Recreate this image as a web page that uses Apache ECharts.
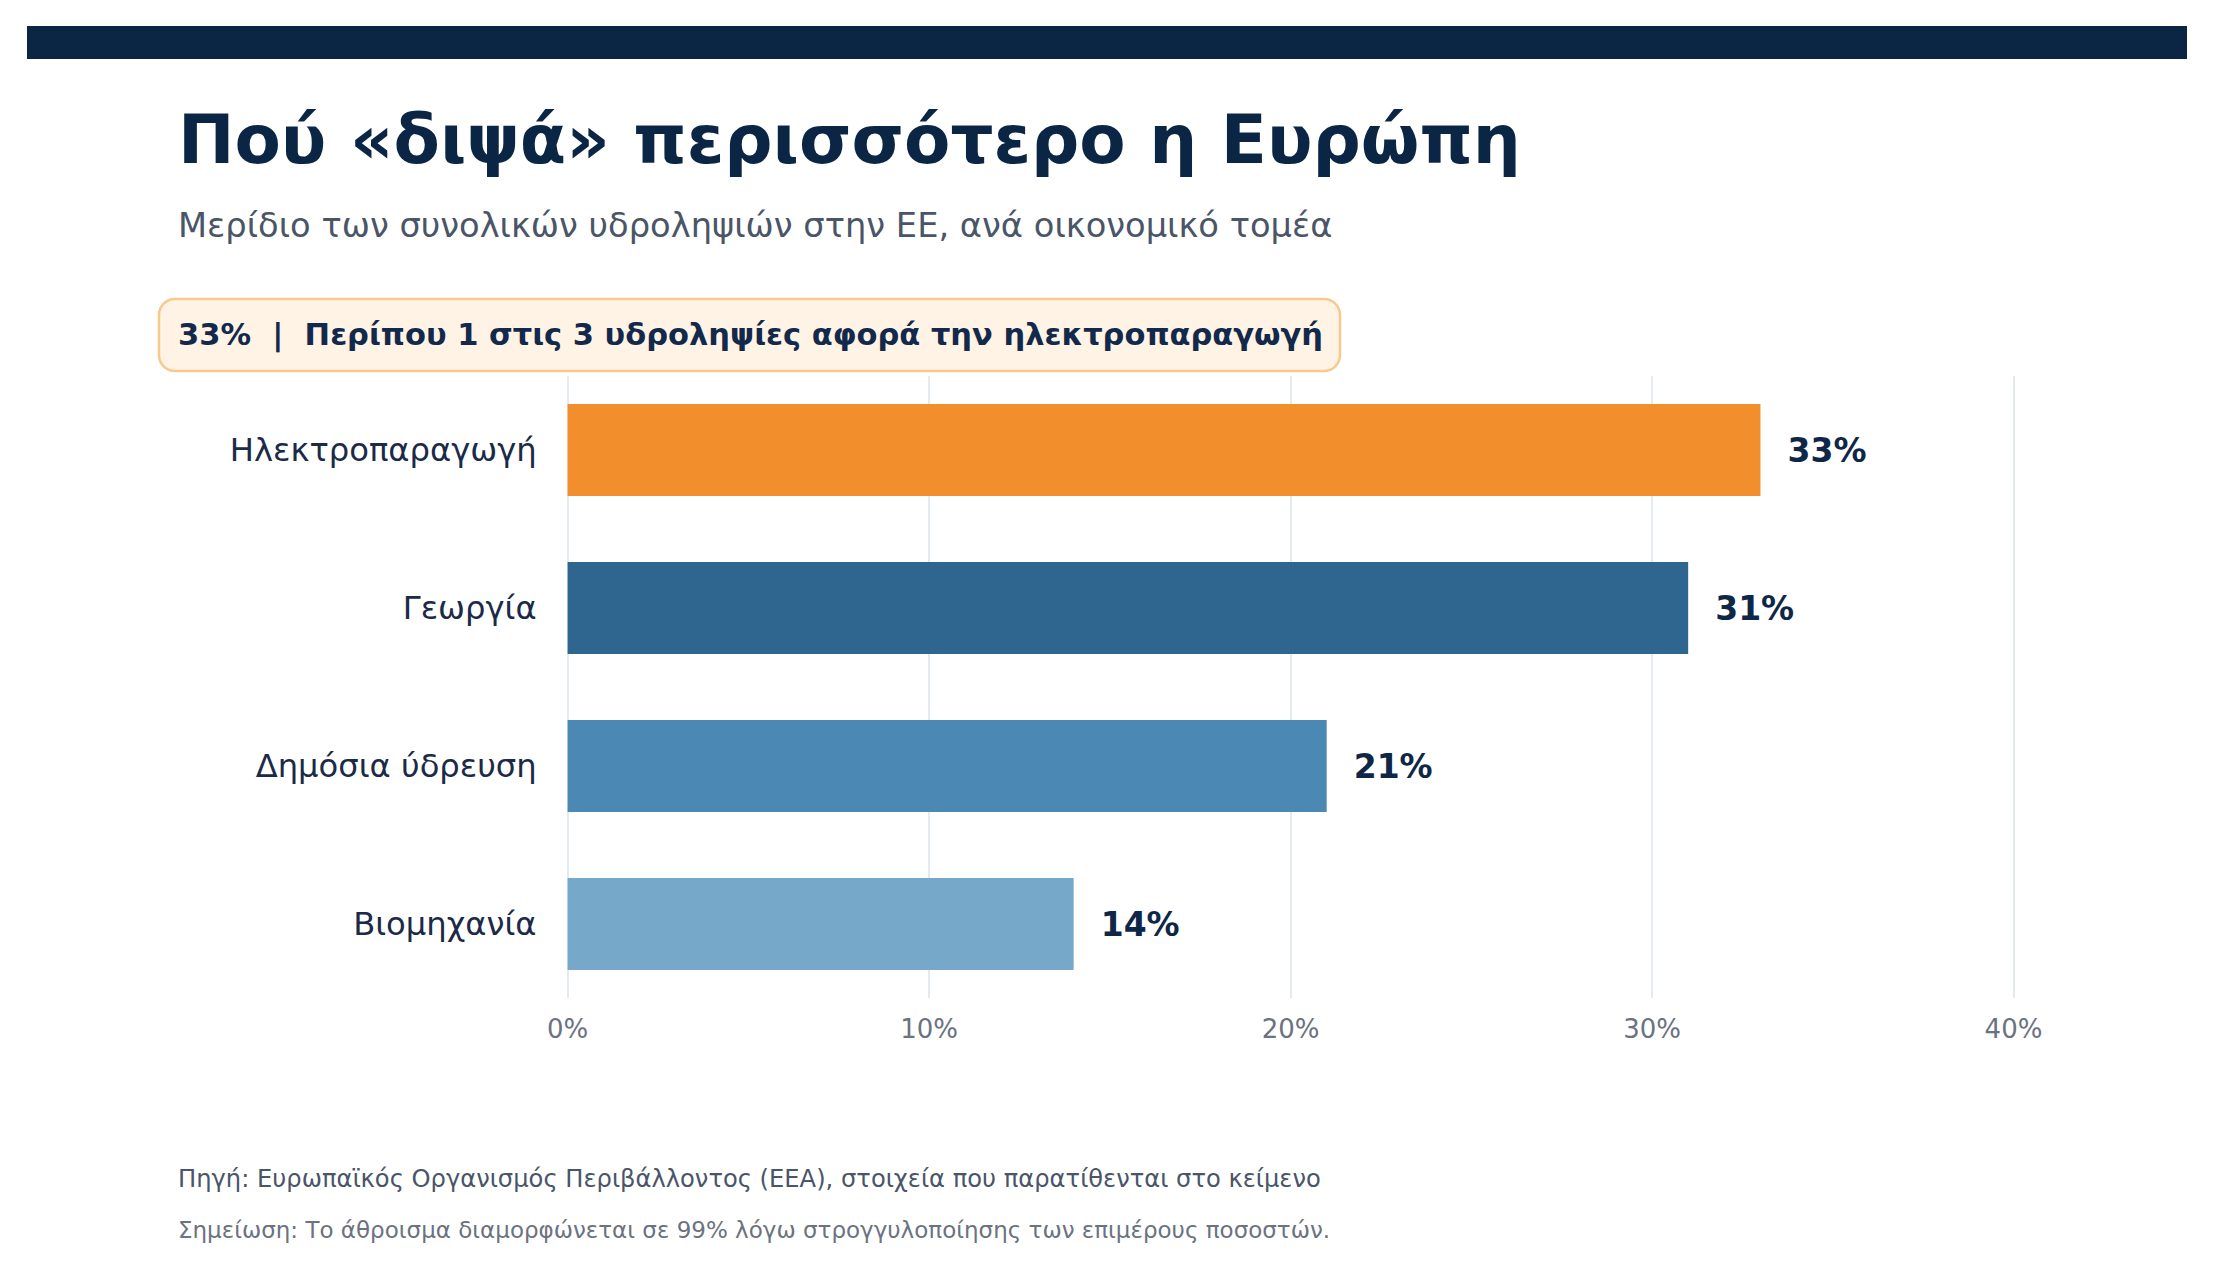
<!DOCTYPE html>
<html>
<head>
<meta charset="utf-8">
<script src="https://cdn.jsdelivr.net/npm/echarts@6/dist/echarts.min.js"></script>
<style>
  html, body { margin: 0; padding: 0; background: #ffffff; }
  #chart { width: 2214px; height: 1270px; }
</style>
</head>
<body>
<div id="chart"></div>
<script>
// ---- Data ----
const categories = ['Ηλεκτροπαραγωγή', 'Γεωργία', 'Δημόσια ύδρευση', 'Βιομηχανία'];
const values = [33, 31, 21, 14];
const barColors = ['#F28E2B', '#2E6690', '#4B88B4', '#76A8CA'];
const xTickValues = [0, 10, 20, 30, 40];

const titleText = 'Πού «διψά» περισσότερο η Ευρώπη';
const subtitleText = 'Μερίδιο των συνολικών υδροληψιών στην ΕΕ, ανά οικονομικό τομέα';
const calloutText = '33%  |  Περίπου 1 στις 3 υδροληψίες αφορά την ηλεκτροπαραγωγή';
const sourceText = 'Πηγή: Ευρωπαϊκός Οργανισμός Περιβάλλοντος (EEA), στοιχεία που παρατίθενται στο κείμενο';
const noteText = 'Σημείωση: Το άθροισμα διαμορφώνεται σε 99% λόγω στρογγυλοποίησης των επιμέρους ποσοστών.';

const FONT = "'DejaVu Sans', sans-serif";
const NAVY = '#0b2545';

const chart = echarts.init(document.getElementById('chart'), null, { renderer: 'svg' });

const option = {
  backgroundColor: '#ffffff',
  animation: false,
  textStyle: { fontFamily: FONT },
  grid: [
    { left: 567.6, right: 200.5, top: 371, height: 632, containLabel: false },
    { left: 567.6, right: 200.5, top: 376, height: 622, containLabel: false }
  ],
  xAxis: [
    { type: 'value', gridIndex: 0, min: xTickValues[0], max: xTickValues[xTickValues.length - 1], show: false },
    {
      type: 'value', gridIndex: 1,
      min: xTickValues[0], max: xTickValues[xTickValues.length - 1], interval: 10,
      axisLine: { show: false }, axisTick: { show: false },
      splitLine: { show: true, lineStyle: { color: '#dde3ea', width: 1.5 } },
      axisLabel: {
        formatter: '{value}%', color: '#6b7280', fontSize: 26, fontFamily: FONT, margin: 18
      }
    }
  ],
  yAxis: [
    {
      type: 'category', gridIndex: 0, data: categories, inverse: true,
      axisLine: { show: false }, axisTick: { show: false }, splitLine: { show: false },
      axisLabel: { color: '#1b2a47', fontSize: 32.2, fontFamily: FONT, margin: 31 }
    },
    { type: 'value', gridIndex: 1, min: 0, max: 1, show: false }
  ],
  series: [
    {
      type: 'bar', xAxisIndex: 0, yAxisIndex: 0,
      data: values.map((v, i) => ({ value: v, itemStyle: { color: barColors[i] } })),
      barWidth: '58.2%',
      label: {
        show: true, position: 'right', distance: 27,
        formatter: p => p.value + '%',
        color: '#0f2747', fontSize: 33, fontWeight: 'bold', fontFamily: FONT
      }
    }
  ],
  graphic: [
    { type: 'rect', shape: { x: 27, y: 26, width: 2160, height: 33 }, style: { fill: NAVY }, silent: true },
    {
      type: 'text', x: 178, y: 139,
      style: { text: titleText, fill: NAVY, font: 'bold 67.5px ' + FONT, verticalAlign: 'middle', align: 'left' }
    },
    {
      type: 'text', x: 178, y: 225,
      style: { text: subtitleText, fill: '#4a5568', font: '33.7px ' + FONT, verticalAlign: 'middle', align: 'left' }
    },
    {
      type: 'rect', shape: { x: 159, y: 299, width: 1181, height: 72, r: 16 },
      style: { fill: '#fef3e4', stroke: '#f8c98c', lineWidth: 2.5 }
    },
    {
      type: 'text', x: 178, y: 334,
      style: { text: calloutText, fill: '#13294b', font: 'bold 30.5px ' + FONT, verticalAlign: 'middle', align: 'left' }
    },
    {
      type: 'text', x: 178, y: 1179,
      style: { text: sourceText, fill: '#4a5568', font: '24.2px ' + FONT, verticalAlign: 'middle', align: 'left' }
    },
    {
      type: 'text', x: 178, y: 1230,
      style: { text: noteText, fill: '#6b7280', font: '23px ' + FONT, verticalAlign: 'middle', align: 'left' }
    }
  ]
};

chart.setOption(option);
</script>
</body>
</html>
